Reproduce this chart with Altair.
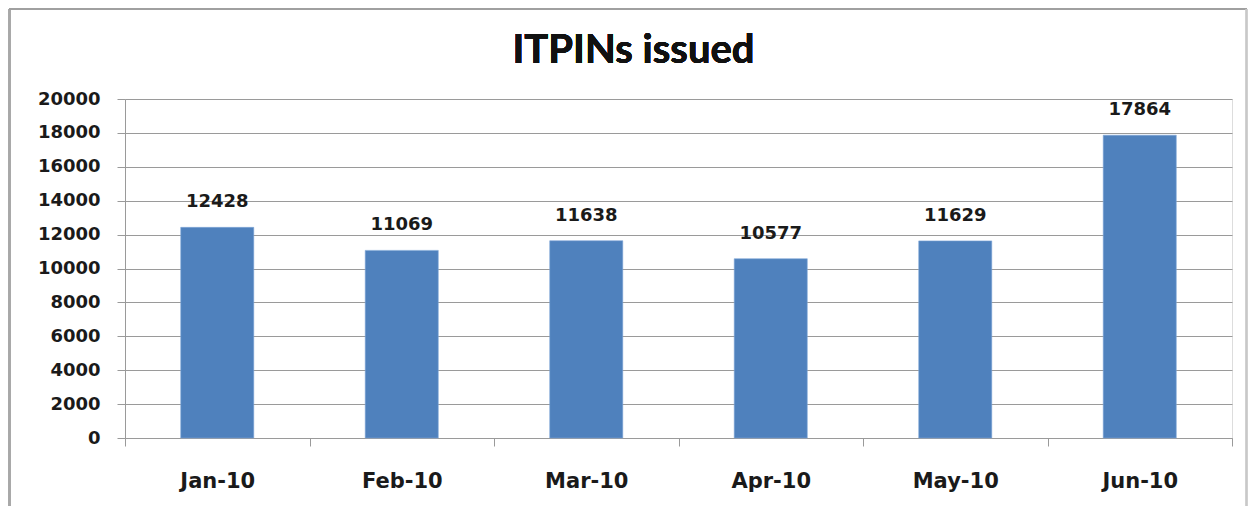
import altair as alt
import pandas as pd

months = ["Jan-10", "Feb-10", "Mar-10", "Apr-10", "May-10", "Jun-10"]
issued = [12428, 11069, 11638, 10577, 11629, 17864]
y_ticks = [0, 2000, 4000, 6000, 8000, 10000, 12000, 14000, 16000, 18000, 20000]
title_text = "ITPINs issued"

df = pd.DataFrame({"month": months, "issued": issued})

NUM_FONT = "DejaVu Sans"
GRAY = "#9a9a9a"

x = alt.X("month:N", sort=months, title=None,
          scale=alt.Scale(paddingInner=0, paddingOuter=0),
          axis=alt.Axis(labelAngle=0, labelFont=NUM_FONT, labelFontSize=21,
                        labelFontWeight="bold", labelColor="#1a1a1a",
                        labelBaseline="alphabetic", labelPadding=41,
                        tickBand="extent", tickSize=8, tickColor=GRAY,
                        domainColor=GRAY, grid=False))
y = alt.Y("issued:Q", title=None,
          scale=alt.Scale(domain=[0, 20000], nice=False),
          axis=alt.Axis(values=y_ticks, tickCount=len(y_ticks), format="d",
                        labelFont=NUM_FONT, labelFontSize=18, labelFontWeight="bold",
                        labelColor="#1a1a1a", labelPadding=17, tickSize=8,
                        labelOverlap=False,
                        tickColor=GRAY, domainColor=GRAY, gridColor=GRAY,
                        gridWidth=1))

base = alt.Chart(df)
bars = base.mark_bar(color="#4F81BD", stroke="#7fa6d6", strokeWidth=0.6,
                     width=alt.RelativeBandSize(0.396)).encode(x=x, y=y)
labels = base.mark_text(font=NUM_FONT, fontSize=18, fontWeight="bold",
                        color="#1a1a1a", baseline="alphabetic", dy=-20).encode(
    x=x, y=y, text=alt.Text("issued:Q", format="d"))

title = base.mark_text(font="Lato", fontSize=40, fontWeight="bold", color="#111111",
                       align="center", baseline="alphabetic").encode(
    x=alt.value(508.5), y=alt.value(-36), text=alt.value(title_text))

frame_left = base.mark_rule(color="#a8a8a8", strokeWidth=2).encode(
    x=alt.value(-115.5), y=alt.value(-90), y2=alt.value(420))
frame_top = base.mark_rule(color="#a0a0a0", strokeWidth=2).encode(
    x=alt.value(-116), x2=alt.value(1122), y=alt.value(-90))
frame_right = base.mark_rule(color="#c8c8c8", strokeWidth=1.5).encode(
    x=alt.value(1121.5), y=alt.value(-90), y2=alt.value(420))

chart = alt.layer(bars, labels, title, frame_left, frame_top, frame_right).properties(
    width=1107, height=339,
    autosize=alt.AutoSizeParams(type="none"),
    padding={"left": 117, "top": 91, "right": 16, "bottom": 68},
).configure_view(stroke=None).configure(background="white")

chart.save("out.html", embed_options={"renderer": "svg", "actions": False})
